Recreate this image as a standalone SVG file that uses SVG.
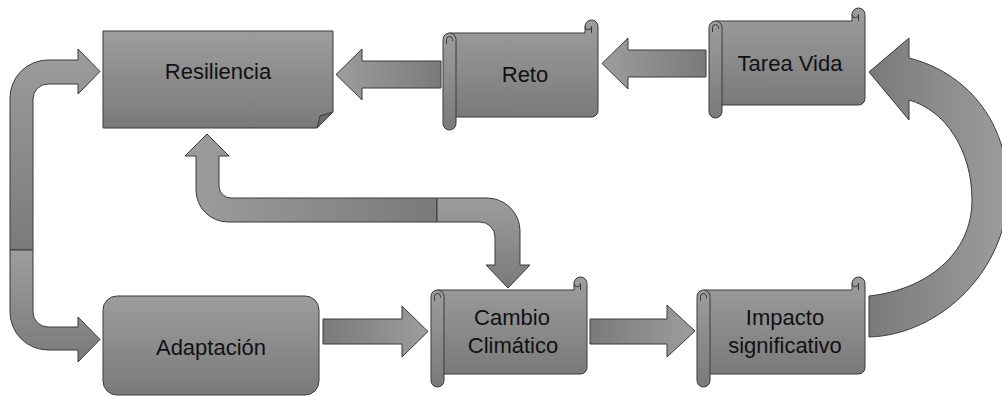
<svg xmlns="http://www.w3.org/2000/svg" width="1002" height="396" viewBox="0 0 1002 396">
<defs>
<linearGradient id="gV" x1="0" y1="0" x2="0" y2="1"><stop offset="0" stop-color="#9d9d9d"/><stop offset="1" stop-color="#7a7a7a"/></linearGradient>
<linearGradient id="gL" x1="0" y1="0" x2="1" y2="0"><stop offset="0" stop-color="#9d9d9d"/><stop offset="1" stop-color="#7a7a7a"/></linearGradient>
<linearGradient id="gR" x1="0" y1="0" x2="1" y2="0"><stop offset="0" stop-color="#7a7a7a"/><stop offset="1" stop-color="#9d9d9d"/></linearGradient>
</defs>
<style>
.s{stroke:#3a3a3a;stroke-width:1;stroke-linejoin:round}
.v{fill:url(#gV)}
.l{fill:url(#gL)}
.r{fill:url(#gR)}
.d{fill:none;stroke:#3a3a3a;stroke-width:1}
.t{font-family:"Liberation Sans",Arial,sans-serif;font-size:22px;fill:#111;text-anchor:middle}
</style>
<rect width="1002" height="396" fill="#fff"/>
<g id="connectors">
<path class="s v" d="M 10 250 V 98 A 38 38 0 0 1 48 60 H 78 V 49 L 100 71.5 L 78 94 V 84 H 48 A 15 15 0 0 0 33 99 V 250 Z"/>
<path class="s v" d="M 10 250 V 312 A 38 38 0 0 0 48 350 H 78 V 362 L 100 339.5 L 78 317 V 327 H 48 A 15 15 0 0 1 33 312 V 250 Z"/>
<path class="s l" d="M 437 198 H 231 A 12 12 0 0 1 219 186 V 156 H 229 L 207 134 L 185 156 H 196 V 190 A 32 32 0 0 0 228 222 H 437 Z"/>
<path class="s v" d="M 437 198 H 487 A 33 33 0 0 1 520 231 V 265 H 530 L 508 288 L 486 265 H 495 V 237 A 15 15 0 0 0 480 222 H 437 Z"/>
<path class="s l" d="M 441 61 H 362 V 49 L 336 74.5 L 362 100 V 88 H 441 Z"/>
<path class="s l" d="M 706 50 H 628 V 38 L 602 63.5 L 628 89 V 77 H 706 Z"/>
<path class="s r" d="M 323 319 H 402 V 306 L 428 331.5 L 402 357 V 344 H 323 Z"/>
<path class="s r" d="M 590 319 H 667 V 305 L 695 331 L 667 357 V 344 H 590 Z"/>
<path class="s r" d="M 869 296 V 337 C 940 335 1008 270 1008 190 C 1008 120 965 72 909 58 V 38 L 869 72 L 909 120 V 100 C 945 110 972 150 972 200 C 972 255 925 290 869 296 Z"/>
</g>
<g id="resiliencia">
<path class="s v" d="M 103 31 H 333 V 112 L 317 128 H 103 Z"/>
<path class="s" fill="#6c6c6c" d="M 317 128 L 320 116 L 333 112 Z"/>
<text class="t" x="218" y="79">Resiliencia</text>
</g>
<g id="reto">
<path class="s v" d="M 449.5 33 H 585 V 26.5 A 6.5 6.5 0 0 1 598 26.5 V 110.5 A 6.5 6.5 0 0 1 591.5 117 H 449.5 Z"/>
<path class="d" d="M 585 26.5 A 3.25 3.25 0 0 0 591.5 26.5 V 33"/>
<rect class="s v" x="443" y="33" width="13" height="97" rx="6.5"/>
<path class="d" d="M 446.5 44 V 39.5 A 3 3 0 0 1 452.5 39.5 V 41"/>
<text class="t" x="525" y="82">Reto</text>
</g>
<g id="tarea-vida">
<path class="s v" d="M 715.5 21 H 852 V 14.5 A 6.5 6.5 0 0 1 865 14.5 V 98.5 A 6.5 6.5 0 0 1 858.5 105 H 715.5 Z"/>
<path class="d" d="M 852 14.5 A 3.25 3.25 0 0 0 858.5 14.5 V 21"/>
<rect class="s v" x="709" y="21" width="13" height="97" rx="6.5"/>
<path class="d" d="M 712.5 32 V 27.5 A 3 3 0 0 1 718.5 27.5 V 29"/>
<text class="t" x="790" y="71">Tarea Vida</text>
</g>
<g id="adaptacion">
<rect class="s v" x="103" y="296" width="216" height="99" rx="14"/>
<text class="t" x="211" y="355">Adaptación</text>
</g>
<g id="cambio-climatico">
<path class="s v" d="M 437.5 290 H 574 V 283.5 A 6.5 6.5 0 0 1 587 283.5 V 367.5 A 6.5 6.5 0 0 1 580.5 374 H 437.5 Z"/>
<path class="d" d="M 574 283.5 A 3.25 3.25 0 0 0 580.5 283.5 V 290"/>
<rect class="s v" x="431" y="290" width="13" height="97" rx="6.5"/>
<path class="d" d="M 434.5 301 V 296.5 A 3 3 0 0 1 440.5 296.5 V 298"/>
<text class="t" x="512" y="325">Cambio</text>
<text class="t" x="513" y="353">Climático</text>
</g>
<g id="impacto-significativo">
<path class="s v" d="M 703.5 290 H 852 V 283.5 A 6.5 6.5 0 0 1 865 283.5 V 367.5 A 6.5 6.5 0 0 1 858.5 374 H 703.5 Z"/>
<path class="d" d="M 852 283.5 A 3.25 3.25 0 0 0 858.5 283.5 V 290"/>
<rect class="s v" x="697" y="290" width="13" height="97" rx="6.5"/>
<path class="d" d="M 700.5 301 V 296.5 A 3 3 0 0 1 706.5 296.5 V 298"/>
<text class="t" x="785" y="325">Impacto</text>
<text class="t" x="785" y="353">significativo</text>
</g>
</svg>
